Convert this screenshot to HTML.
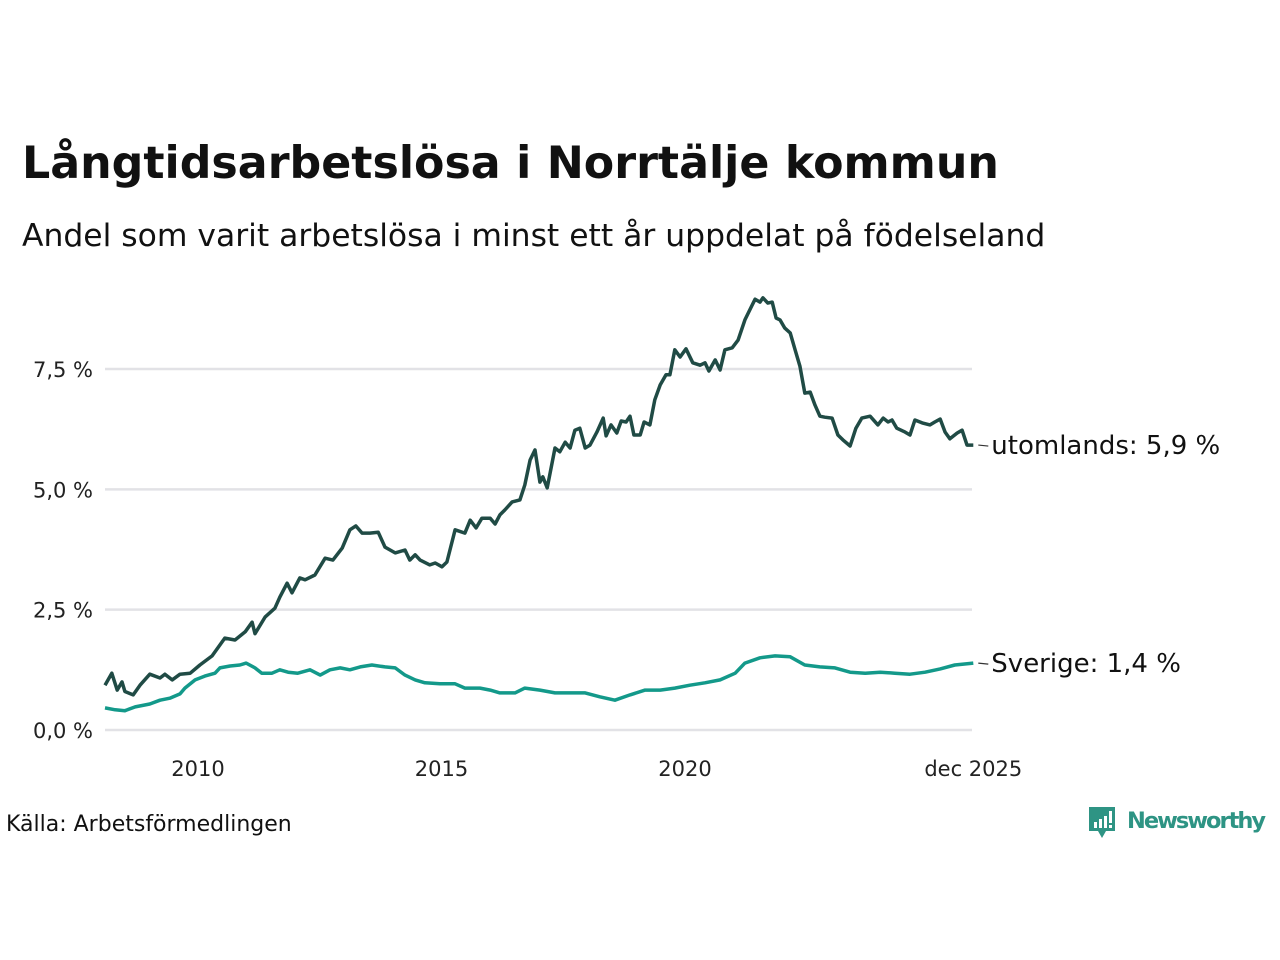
<!DOCTYPE html>
<html><head><meta charset="utf-8"><style>
html,body{margin:0;padding:0;background:#fff;width:1280px;height:960px;overflow:hidden;font-family:"Liberation Sans","DejaVu Sans",sans-serif;}
</style></head><body>
<svg width="1280" height="960" viewBox="0 0 1280 960" xmlns="http://www.w3.org/2000/svg">
<text x="22" y="178" font-size="44.3" font-weight="bold" fill="#111" font-family="DejaVu Sans, sans-serif">Långtidsarbetslösa i Norrtälje kommun</text>
<text x="22" y="246" font-size="31.4" fill="#111" font-family="DejaVu Sans, sans-serif">Andel som varit arbetslösa i minst ett år uppdelat på födelseland</text>
<g id="grid"></g>
<g id="series"></g>
<g id="labels"></g>
<text x="6" y="831" font-size="22" fill="#111" font-family="DejaVu Sans, sans-serif">Källa: Arbetsförmedlingen</text>
<g>
<path d="M1089 807 h26 v24 h-9 l-4 7 l-4 -7 h-9 z" fill="#2e9484"/>
<rect x="1094" y="822" width="3" height="6" fill="#fff"/><rect x="1099" y="819" width="3" height="9" fill="#fff"/><rect x="1104" y="816" width="3" height="12" fill="#fff"/><rect x="1109" y="811" width="3" height="12" fill="#fff"/><rect x="1109" y="825" width="3" height="3" fill="#fff"/>
<text x="1127" y="828" font-size="22.5" font-weight="bold" fill="#2e9484" font-family="DejaVu Sans, sans-serif" textLength="139">Newsworthy</text>
</g>
</svg>
<script>
const yTicks=[0,2.5,5,7.5];
const yTickLabels=["0,0 %","2,5 %","5,0 %","7,5 %"];
const xTicks=[2010,2015,2020,2025.92];
const xTickLabels=["2010","2015","2020","dec 2025"];
const datesForeign=[2008.09,2008.23,2008.34,2008.44,2008.50,2008.67,2008.81,2009.01,2009.22,2009.32,2009.47,2009.63,2009.84,2010.04,2010.29,2010.55,2010.76,2010.97,2011.11,2011.17,2011.38,2011.58,2011.68,2011.83,2011.93,2012.09,2012.20,2012.40,2012.61,2012.77,2012.96,2013.12,2013.24,2013.37,2013.53,2013.70,2013.84,2014.05,2014.25,2014.35,2014.46,2014.56,2014.76,2014.87,2015.01,2015.11,2015.28,2015.48,2015.59,2015.71,2015.83,2016.00,2016.10,2016.20,2016.30,2016.45,2016.61,2016.71,2016.82,2016.92,2017.02,2017.08,2017.17,2017.33,2017.43,2017.54,2017.64,2017.74,2017.84,2017.95,2018.05,2018.19,2018.32,2018.38,2018.48,2018.60,2018.69,2018.79,2018.87,2018.95,2019.08,2019.16,2019.28,2019.38,2019.49,2019.61,2019.69,2019.79,2019.90,2020.02,2020.16,2020.31,2020.41,2020.49,2020.62,2020.72,2020.82,2020.97,2021.09,2021.23,2021.38,2021.44,2021.54,2021.60,2021.70,2021.79,2021.87,2021.95,2022.05,2022.16,2022.26,2022.36,2022.46,2022.57,2022.67,2022.77,2022.87,2023.02,2023.14,2023.24,2023.39,2023.51,2023.63,2023.80,2023.96,2024.07,2024.17,2024.25,2024.35,2024.52,2024.62,2024.72,2024.87,2025.03,2025.13,2025.24,2025.34,2025.44,2025.59,2025.69,2025.79,2025.92];
const valuesForeign=[0.93,1.18,0.83,1.0,0.8,0.73,0.93,1.16,1.08,1.16,1.04,1.16,1.18,1.35,1.54,1.91,1.87,2.04,2.24,2.0,2.35,2.53,2.76,3.05,2.85,3.16,3.12,3.22,3.57,3.53,3.78,4.16,4.24,4.09,4.09,4.11,3.8,3.68,3.74,3.53,3.64,3.53,3.43,3.47,3.39,3.49,4.16,4.09,4.36,4.2,4.4,4.4,4.28,4.47,4.57,4.74,4.78,5.09,5.61,5.82,5.15,5.26,5.03,5.86,5.78,5.98,5.86,6.23,6.27,5.86,5.92,6.19,6.48,6.11,6.34,6.17,6.42,6.4,6.52,6.13,6.13,6.4,6.34,6.86,7.17,7.38,7.38,7.9,7.75,7.92,7.63,7.58,7.63,7.46,7.69,7.48,7.9,7.94,8.1,8.52,8.83,8.95,8.89,8.98,8.87,8.89,8.56,8.52,8.35,8.25,7.9,7.56,7.0,7.02,6.75,6.52,6.5,6.48,6.13,6.03,5.9,6.27,6.48,6.52,6.34,6.48,6.4,6.44,6.27,6.19,6.13,6.44,6.38,6.34,6.4,6.46,6.19,6.05,6.17,6.23,5.92,5.92];
const datesSweden=[2008.09,2008.30,2008.50,2008.71,2009.01,2009.22,2009.42,2009.63,2009.73,2009.94,2010.14,2010.35,2010.45,2010.66,2010.86,2010.99,2011.17,2011.31,2011.52,2011.68,2011.85,2012.05,2012.30,2012.51,2012.71,2012.92,2013.12,2013.33,2013.57,2013.84,2014.05,2014.25,2014.46,2014.66,2014.97,2015.28,2015.48,2015.79,2016.00,2016.20,2016.51,2016.71,2017.02,2017.33,2017.64,2017.95,2018.25,2018.56,2018.87,2019.18,2019.49,2019.79,2020.10,2020.41,2020.72,2021.03,2021.23,2021.54,2021.85,2022.16,2022.46,2022.77,2023.08,2023.39,2023.70,2024.01,2024.31,2024.62,2024.93,2025.24,2025.54,2025.92];
const valuesSweden=[0.46,0.42,0.4,0.48,0.54,0.62,0.66,0.75,0.87,1.04,1.12,1.18,1.29,1.33,1.35,1.39,1.29,1.18,1.18,1.25,1.2,1.18,1.25,1.14,1.25,1.29,1.25,1.31,1.35,1.31,1.29,1.14,1.04,0.98,0.96,0.96,0.87,0.87,0.83,0.77,0.77,0.87,0.83,0.77,0.77,0.77,0.69,0.62,0.73,0.83,0.83,0.87,0.93,0.98,1.04,1.18,1.39,1.5,1.54,1.52,1.35,1.31,1.29,1.2,1.18,1.2,1.18,1.16,1.2,1.27,1.35,1.39];
const seriesLabels=["utomlands: 5,9 %","Sverige: 1,4 %"];

const NS="http://www.w3.org/2000/svg";
const X=y=>198+(y-2010)*48.7;
const Y=v=>730-v*48.13;
function mk(tag,attrs,parent){const e=document.createElementNS(NS,tag);for(const k in attrs)e.setAttribute(k,attrs[k]);parent.appendChild(e);return e;}
const grid=document.getElementById('grid'),ser=document.getElementById('series'),lab=document.getElementById('labels');
yTicks.forEach((t,i)=>{
  const l=mk('line',{x1:105,x2:972,y1:Y(t),y2:Y(t),stroke:'#e2e2e6','stroke-width':2.5},grid);
  
  
  const tx=mk('text',{x:93,y:Y(t)+8,'text-anchor':'end','font-size':21,fill:'#222','font-family':'DejaVu Sans, sans-serif'},grid);
  tx.textContent=yTickLabels[i];
  
  
});
xTicks.forEach((t,i)=>{
  const tx=mk('text',{x:X(t),y:776,'text-anchor':'middle','font-size':21,fill:'#222','font-family':'DejaVu Sans, sans-serif'},grid);
  tx.textContent=xTickLabels[i];
  
  
});
function line(dates,vals,color,name,label){
  const d=dates.map((t,i)=>(i?'L':'M')+X(t).toFixed(1)+' '+Y(vals[i]).toFixed(1)).join(' ');
  const p=mk('path',{d:d,fill:'none',stroke:color,'stroke-width':3.5,'stroke-linejoin':'round'},ser);
  
  
  const ly=Y(vals[vals.length-1]);
  const lx=X(dates[dates.length-1]);
  const tick=mk('line',{x1:lx+5,x2:lx+15,y1:ly,y2:ly+1,stroke:'#333','stroke-width':1.2},lab);
  
  
  const t=mk('text',{x:lx+18,y:ly+9,'font-size':26,fill:'#111','font-family':'DejaVu Sans, sans-serif'},lab);
  t.textContent=label;
  
  
}
line(datesSweden,valuesSweden,'#13998a','line-sverige',seriesLabels[1]);
line(datesForeign,valuesForeign,'#204b45','line-utomlands',seriesLabels[0]);
</script>
</body></html>
